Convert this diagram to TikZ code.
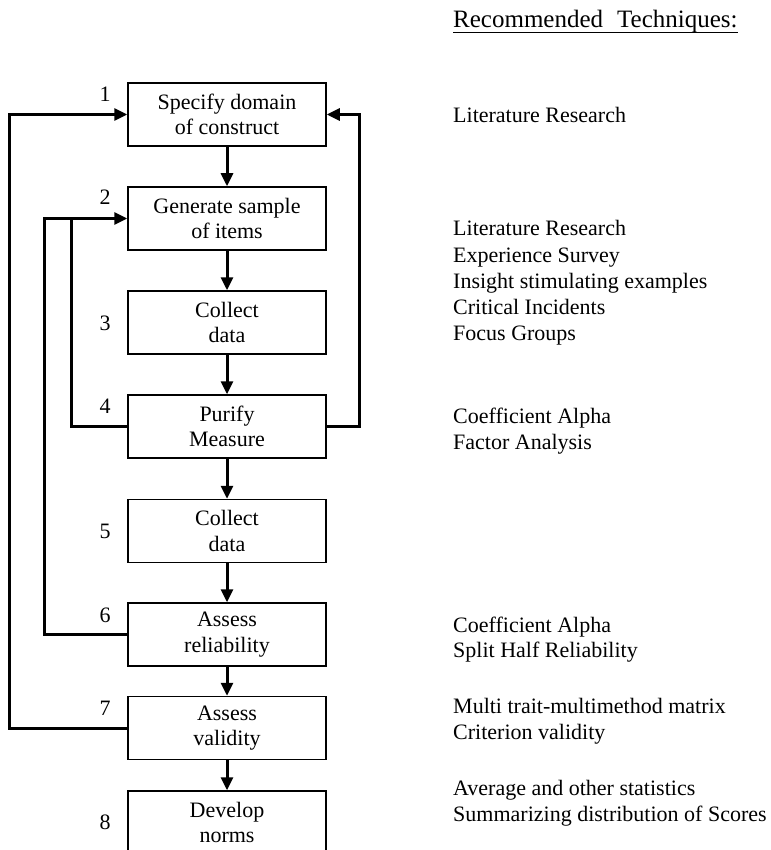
\documentclass[tikz,border=0pt]{standalone}
\usepackage{fontspec}
\setmainfont{Liberation Serif}
\usetikzlibrary{arrows.meta}
\begin{document}
\begin{tikzpicture}[x=1pt,y=-1pt,
  stepbox/.style={draw=black, line width=1.5pt, fill=white,
    minimum width=198pt, minimum height=63pt, align=center, inner sep=0pt,
    font=\fontsize{22}{25.5}\selectfont},
  num/.style={anchor=base, inner sep=0pt, font=\fontsize{22}{26}\selectfont},
  tech/.style={anchor=base west, inner sep=0pt, font=\fontsize{22}{26}\selectfont},
  flow/.style={line width=3pt, -{Triangle[length=13pt,width=12pt]}},
  back/.style={line width=3pt}
]
\useasboundingbox (0,0) rectangle (770,850);

% rails of the feedback loops
\coordinate (l1) at (9,0);
\coordinate (l2) at (44,0);
\coordinate (l3) at (71,0);
\coordinate (r1) at (359,0);

% process steps
\node[stepbox] (b1) at (227,114.5) {Specify domain\\of construct};
\node[stepbox] (b2) at (227,218.5) {Generate sample\\of items};
\node[stepbox] (b3) at (227,322.5) {Collect\\data};
\node[stepbox] (b4) at (227,426.5) {Purify\\Measure};
\node[stepbox] (b5) at (227,531) {Collect\\data};
\node[stepbox] (b6) at (227,634.5) {Assess\\reliability};
\node[stepbox] (b7) at (227,728) {Assess\\validity};
\node[stepbox] (b8) at (227,822.5) {Develop\\norms};

% step numbers
\node[num] (n1) at (105,102) {1};
\node[num] (n2) at (105,205) {2};
\node[num] (n3) at (105,330) {3};
\node[num] (n4) at (105,413) {4};
\node[num] (n5) at (105,538) {5};
\node[num] (n6) at (105,622) {6};
\node[num] (n7) at (105,715) {7};
\node[num] (n8) at (105,829) {8};

% main sequence
\draw[flow] (b1.south) -- (b2.north);
\draw[flow] (b2.south) -- (b3.north);
\draw[flow] (b3.south) -- (b4.north);
\draw[flow] (b4.south) -- (b5.north);
\draw[flow] (b5.south) -- (b6.north);
\draw[flow] (b6.south) -- (b7.north);
\draw[flow] (b7.south) -- (b8.north);

% feedback loops
\draw[flow] (b7.west) -- (b7.west -| l1) -- (b1.west -| l1) -- (b1.west);
\draw[flow] (b4.east) -- (b4.east -| r1) -- (b1.east -| r1) -- (b1.east);
\draw[flow] (b6.west) -- (b6.west -| l2) -- (b2.west -| l2) -- (b2.west);
\draw[back] (b4.west) -- (b4.west -| l3) -- (b2.west -| l3);

% recommended techniques
\node[tech, font=\fontsize{25}{29}\selectfont] (rt) at (453,28) {Recommended\hspace{14pt}Techniques:};
\draw[line width=1.3pt] ([yshift=-4.5pt]rt.base west) -- ([yshift=-4.5pt]rt.base east);

\node[tech] (t1a) at (453,123) {Literature Research};

\node[tech] (t2a) at (453,236) {Literature Research};
\node[tech] (t2b) at (453,262) {Experience Survey};
\node[tech] (t2c) at (453,288) {Insight stimulating examples};
\node[tech] (t2d) at (453,314) {Critical Incidents};
\node[tech] (t2e) at (453,340) {Focus Groups};

\node[tech] (t4a) at (453,423) {Coefficient Alpha};
\node[tech] (t4b) at (453,449) {Factor Analysis};

\node[tech] (t6a) at (453,632) {Coefficient Alpha};
\node[tech] (t6b) at (453,657) {Split Half Reliability};

\node[tech] (t7a) at (453,713) {Multi trait-multimethod matrix};
\node[tech] (t7b) at (453,739) {Criterion validity};

\node[tech] (t8a) at (453,795) {Average and other statistics};
\node[tech] (t8b) at (453,821) {Summarizing distribution of Scores};
\end{tikzpicture}
\end{document}
